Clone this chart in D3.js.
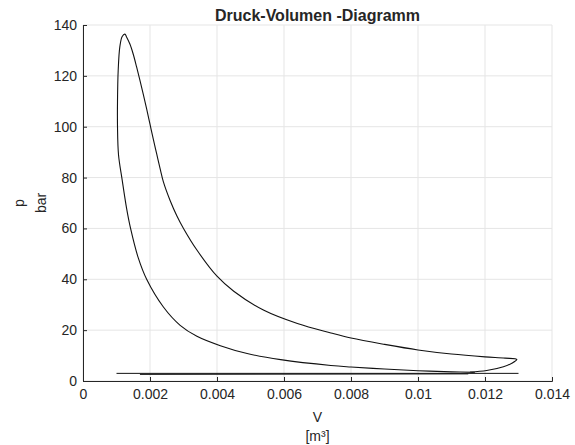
<!DOCTYPE html>
<html>
<head>
<meta charset="utf-8">
<script src="https://cdn.jsdelivr.net/npm/d3@7"></script>
<style>
  body { margin: 0; background: #fff; }
  text { font-family: "Liberation Sans", Arial, sans-serif; fill: #262626; }
</style>
</head>
<body>
<div id="chart"></div>
<script>
'use strict'

// p-V loop: V in m³, p in bar
// (compression branch from bottom right, up over the peak, expansion back to the tip)
let loopV = [0.0117, 0.011, 0.01, 0.009, 0.008, 0.0074, 0.0059, 0.0049, 0.0041, 0.0034,
  0.0029, 0.0024, 0.0019, 0.00165, 0.00142, 0.0013, 0.00117, 0.00106, 0.00103, 0.00103,
  0.00105, 0.0011, 0.00117, 0.00125, 0.0013, 0.0014, 0.0015, 0.0016, 0.0017, 0.0018,
  0.0019, 0.002, 0.0021, 0.0022, 0.0023, 0.0024, 0.0026, 0.0028, 0.003, 0.0034,
  0.004, 0.0045, 0.0054, 0.0064, 0.0074, 0.008, 0.009, 0.01, 0.011, 0.012,
  0.0126, 0.01295, 0.0128, 0.01255, 0.01205, 0.01155],
  loopP = [3.4, 3.6, 4.05, 4.7, 5.5, 6.1, 8.4, 10.8, 13.9, 17.6,
  21.9, 29.1, 40, 48.4, 60, 68, 79, 89, 100, 110,
  122, 131.5, 135.5, 136.4, 135.3, 132.5, 128.5, 123.5, 118.2, 112.7,
  107, 101, 95, 89.3, 83.6, 78.3, 71, 65, 60, 51.5,
  41.2, 35.3, 27.8, 22.6, 18.9, 16.9, 14.4, 12.2, 10.6, 9.5,
  9.0, 8.5, 7.0, 5.6, 4.1, 3.5];

// gas exchange strokes
let exhaustV = [0.013, 0.001], exhaustP = [3.0, 3.0];
let intakeV = [0.0017, 0.0115], intakeP = [2.6, 2.8];

let xTicks = [0, 0.002, 0.004, 0.006, 0.008, 0.01, 0.012, 0.014],
    yTicks = [0, 20, 40, 60, 80, 100, 120, 140];

let width = 575, height = 445,
    margin = {top: 25, right: 23, bottom: 64, left: 83};

let svg = d3.select('#chart').append('svg')
  .attr('width', width)
  .attr('height', height);

let x = d3.scaleLinear().domain([0, 0.014]).range([margin.left, width - margin.right]),
    y = d3.scaleLinear().domain([0, 140]).range([height - margin.bottom, margin.top]);

// grid
svg.append('g')
  .selectAll('line')
  .data(xTicks)
  .join('line')
    .attr('x1', d => x(d)).attr('x2', d => x(d))
    .attr('y1', y(0)).attr('y2', y(140))
    .attr('stroke', '#e5e5e5');
svg.append('g')
  .selectAll('line')
  .data(yTicks)
  .join('line')
    .attr('x1', x(0)).attr('x2', x(0.014))
    .attr('y1', d => y(d)).attr('y2', d => y(d))
    .attr('stroke', '#e5e5e5');

let xAxis = d3.axisBottom(x).tickValues(xTicks).tickSize(-4).tickPadding(8)
    .tickFormat(d => d3.format('~g')(d)),
    yAxis = d3.axisLeft(y).tickValues(yTicks).tickSize(-4).tickPadding(6);

svg.append('g')
  .attr('transform', 'translate(0,' + y(0) + ')')
  .call(xAxis)
  .call(g => g.selectAll('.domain').attr('stroke', '#262626'))
  .call(g => g.selectAll('.tick line').attr('stroke', '#262626'))
  .call(g => g.selectAll('text').attr('font-size', 14).attr('fill', '#262626')
    .attr('font-family', '"Liberation Sans", Arial, sans-serif'));

svg.append('g')
  .attr('transform', 'translate(' + x(0) + ',0)')
  .call(yAxis)
  .call(g => g.selectAll('.domain').attr('stroke', '#262626'))
  .call(g => g.selectAll('.tick line').attr('stroke', '#262626'))
  .call(g => g.selectAll('text').attr('font-size', 14).attr('fill', '#262626')
    .attr('font-family', '"Liberation Sans", Arial, sans-serif'));

let line = d3.line()
  .x(d => x(d[0]))
  .y(d => y(d[1]))
  .curve(d3.curveCatmullRom.alpha(0.5));

let straight = d3.line()
  .x(d => x(d[0]))
  .y(d => y(d[1]));

let plot = svg.append('g');
plot.append('path')
  .datum(loopV.map((v, i) => [v, loopP[i]]))
  .attr('d', line)
  .attr('fill', 'none')
  .attr('stroke', '#111')
  .attr('stroke-width', 1.1);
plot.append('path')
  .datum(exhaustV.map((v, i) => [v, exhaustP[i]]))
  .attr('d', straight)
  .attr('fill', 'none')
  .attr('stroke', '#111')
  .attr('stroke-width', 1);
plot.append('path')
  .datum(intakeV.map((v, i) => [v, intakeP[i]]))
  .attr('d', straight)
  .attr('fill', 'none')
  .attr('stroke', '#111')
  .attr('stroke-width', 1);

// title and labels
let cx = (x(0) + x(0.014)) / 2;
svg.append('text')
  .attr('x', cx).attr('y', 21)
  .attr('text-anchor', 'middle')
  .attr('font-size', 16).attr('font-weight', 'bold')
  .attr('fill', '#000')
  .text('Druck-Volumen -Diagramm');

svg.append('text')
  .attr('x', cx).attr('y', 422)
  .attr('text-anchor', 'middle')
  .attr('font-size', 14)
  .text('V');
svg.append('text')
  .attr('x', cx).attr('y', 441)
  .attr('text-anchor', 'middle')
  .attr('font-size', 14)
  .text('[m³]');

let cy = (y(0) + y(140)) / 2;
svg.append('text')
  .attr('transform', 'translate(24,' + cy + ') rotate(-90)')
  .attr('text-anchor', 'middle')
  .attr('font-size', 14)
  .text('p');
svg.append('text')
  .attr('transform', 'translate(46,' + cy + ') rotate(-90)')
  .attr('text-anchor', 'middle')
  .attr('font-size', 14)
  .text('bar');
</script>
</body>
</html>
